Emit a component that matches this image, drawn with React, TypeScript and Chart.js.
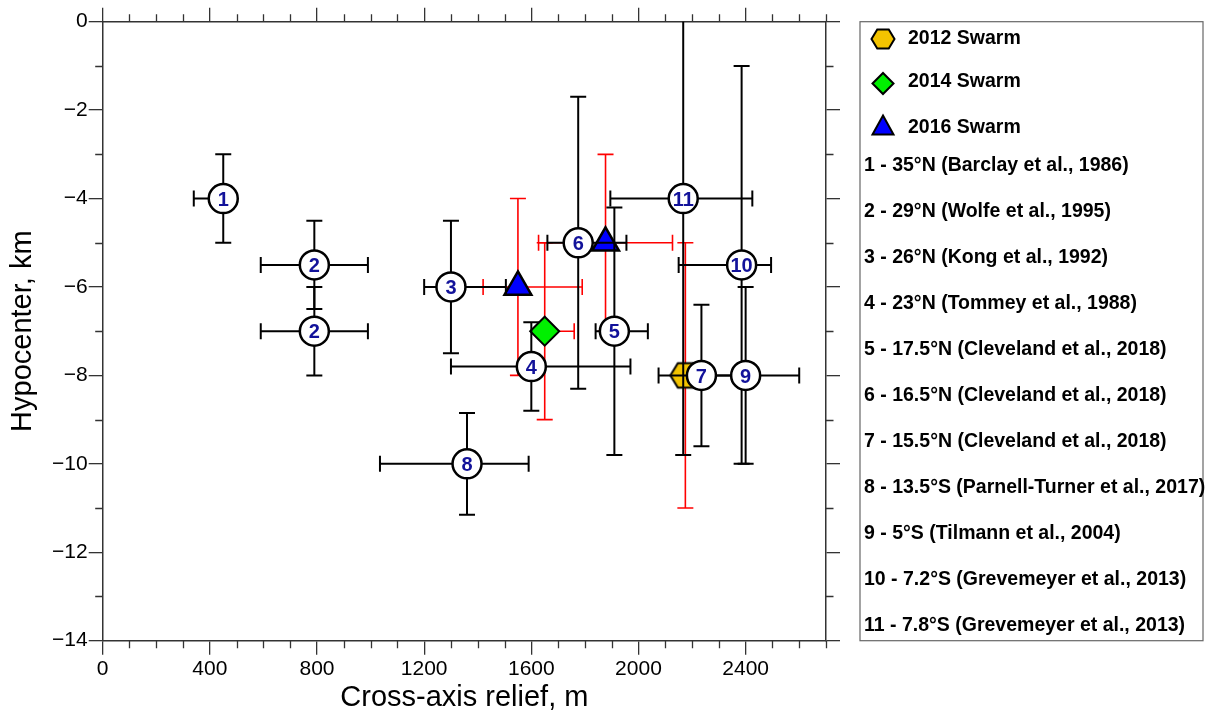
import React, { useEffect, useRef } from 'react';
import { Chart, registerables } from 'chart.js';

Chart.register(...registerables);

// ---------- data ----------
// Reference sites (numbered circles)
const siteNumbers = ['1', '2', '2', '3', '4', '5', '6', '7', '8', '9', '10', '11'];
const siteX = [450, 790, 790, 1300, 1600, 1910, 1775, 2235, 1360, 2400, 2385, 2167];
const siteY = [-4, -5.5, -7, -6, -7.8, -7, -5, -8, -10, -8, -5.5, -4];
const siteXLow = [340, 590, 590, 1200, 1300, 1840, 1660, 2075, 1035, 2200, 2150, 1895];
const siteXHigh = [450, 990, 990, 1505, 1970, 2035, 1955, 2390, 1590, 2600, 2495, 2425];
const siteYLow = [-5, -6.5, -8, -7.5, -8.8, -9.8, -8.3, -9.6, -11.15, -10, -10, -9.8];
const siteYHigh = [-3, -4.5, -6, -4.5, -6.8, -4.2, -1.7, -6.4, -8.85, -6, -1, 1.8];

// Swarms
const swarm2012X = [2175];
const swarm2012Y = [-8];
const swarm2012XLow = [2175];
const swarm2012XHigh = [2175];
const swarm2012YLow = [-11];
const swarm2012YHigh = [-5];

const swarm2014X = [1650];
const swarm2014Y = [-7];
const swarm2014XLow = [1625];
const swarm2014XHigh = [1760];
const swarm2014YLow = [-9];
const swarm2014YHigh = [-5];

const swarm2016X = [1550, 1877];
const swarm2016Y = [-6, -5];
const swarm2016XLow = [1420, 1627];
const swarm2016XHigh = [1790, 2127];
const swarm2016YLow = [-8, -7];
const swarm2016YHigh = [-4, -3];

// Axes
const xMajorTicks = [0, 400, 800, 1200, 1600, 2000, 2400];
const xMinorTicks = [100, 200, 300, 500, 600, 700, 900, 1000, 1100, 1300, 1400, 1500, 1700, 1800, 1900, 2100, 2200, 2300, 2500, 2600, 2700];
const yMajorTicks = [-14, -12, -10, -8, -6, -4, -2, 0];
const yMinorTicks = [-13, -11, -9, -7, -5, -3, -1];
const xTitle = 'Cross-axis relief, m';
const yTitle = 'Hypocenter, km';

// Legend
const swarmLegend = ['2012 Swarm', '2014 Swarm', '2016 Swarm'];
const siteLegend = [
  '1 - 35°N (Barclay et al., 1986)',
  '2 - 29°N (Wolfe et al., 1995)',
  '3 - 26°N (Kong et al., 1992)',
  '4 - 23°N (Tommey et al., 1988)',
  '5 - 17.5°N (Cleveland et al., 2018)',
  '6 - 16.5°N (Cleveland et al., 2018)',
  '7 - 15.5°N (Cleveland et al., 2018)',
  '8 - 13.5°S (Parnell-Turner et al., 2017)',
  '9 - 5°S (Tilmann et al., 2004)',
  '10 - 7.2°S (Grevemeyer et al., 2013)',
  '11 - 7.8°S (Grevemeyer et al., 2013)',
];

// ---------- styles ----------
const FONT = '"Liberation Sans", Arial, Helvetica, sans-serif';
const GOLD = '#F3C300';
const GREEN = '#00F000';
const BLUE = '#0000FF';
const NAVY = '#12129A';
const AXIS = '#333333';

const pack = (xs: number[], ys: number[]) => xs.map((x, i) => ({ x, y: ys[i] }));
const errs = (xl: number[], xh: number[], yl: number[], yh: number[]) =>
  xl.map((_, i) => ({ xLow: xl[i], xHigh: xh[i], yLow: yl[i], yHigh: yh[i] }));

function hexPath(ctx: CanvasRenderingContext2D, cx: number, cy: number, R: number) {
  ctx.beginPath();
  for (let k = 0; k < 6; k++) {
    const a = (Math.PI / 3) * k;
    const px = cx + R * Math.cos(a);
    const py = cy + R * Math.sin(a) * 0.95;
    if (k === 0) ctx.moveTo(px, py);
    else ctx.lineTo(px, py);
  }
  ctx.closePath();
}

function makeHexImage(R: number) {
  const c = document.createElement('canvas');
  const size = Math.ceil(2 * R + 4);
  c.width = size;
  c.height = size;
  const g = c.getContext('2d')!;
  hexPath(g, size / 2, size / 2, R);
  g.fillStyle = GOLD;
  g.fill();
  g.lineWidth = 2;
  g.strokeStyle = '#000';
  g.stroke();
  return c;
}

const errorBarPlugin = {
  id: 'errorBars',
  beforeDatasetDraw(chart: any, args: any) {
    const ds = chart.data.datasets[args.index];
    if (!ds.errors) return;
    const { ctx, chartArea, scales } = chart;
    const x = scales.x;
    const y = scales.y;
    const cap = 8;
    ctx.save();
    ctx.beginPath();
    ctx.rect(chartArea.left, chartArea.top, chartArea.right - chartArea.left, chartArea.bottom - chartArea.top);
    ctx.clip();
    ctx.strokeStyle = ds.errorColor;
    ctx.lineWidth = ds.errorWidth;
    ds.data.forEach((p: any, i: number) => {
      const e = ds.errors[i];
      const px = x.getPixelForValue(p.x);
      const py = y.getPixelForValue(p.y);
      ctx.beginPath();
      if (e.xLow < p.x) {
        const xl = x.getPixelForValue(e.xLow);
        ctx.moveTo(px, py);
        ctx.lineTo(xl, py);
        ctx.moveTo(xl, py - cap);
        ctx.lineTo(xl, py + cap);
      }
      if (e.xHigh > p.x) {
        const xh = x.getPixelForValue(e.xHigh);
        ctx.moveTo(px, py);
        ctx.lineTo(xh, py);
        ctx.moveTo(xh, py - cap);
        ctx.lineTo(xh, py + cap);
      }
      if (e.yLow < p.y) {
        const yl = y.getPixelForValue(e.yLow);
        ctx.moveTo(px, py);
        ctx.lineTo(px, yl);
        ctx.moveTo(px - cap, yl);
        ctx.lineTo(px + cap, yl);
      }
      if (e.yHigh > p.y) {
        const yh = y.getPixelForValue(e.yHigh);
        ctx.moveTo(px, py);
        ctx.lineTo(px, yh);
        ctx.moveTo(px - cap, yh);
        ctx.lineTo(px + cap, yh);
      }
      ctx.stroke();
    });
    ctx.restore();
  },
};

const siteNumberPlugin = {
  id: 'siteNumbers',
  afterDatasetDraw(chart: any, args: any) {
    const ds = chart.data.datasets[args.index];
    if (!ds.numbers) return;
    const ctx = chart.ctx;
    ctx.save();
    ctx.font = `bold 20px ${FONT}`;
    ctx.fillStyle = NAVY;
    ctx.textAlign = 'center';
    ctx.textBaseline = 'alphabetic';
    args.meta.data.forEach((el: any, i: number) => {
      ctx.fillText(ds.numbers[i], el.x, el.y + 7.2);
    });
    ctx.restore();
  },
};

const minorTickPlugin = {
  id: 'minorTicks',
  afterDraw(chart: any) {
    const { ctx, chartArea, scales } = chart;
    const len = 7.5;
    ctx.save();
    ctx.strokeStyle = AXIS;
    ctx.lineWidth = 1.3;
    ctx.beginPath();
    xMinorTicks.forEach((v) => {
      const px = Math.round(scales.x.getPixelForValue(v)) + 0.5;
      ctx.moveTo(px, chartArea.bottom);
      ctx.lineTo(px, chartArea.bottom + len);
      ctx.moveTo(px, chartArea.top);
      ctx.lineTo(px, chartArea.top - len);
    });
    yMinorTicks.forEach((v) => {
      const py = Math.round(scales.y.getPixelForValue(v)) + 0.5;
      ctx.moveTo(chartArea.left, py);
      ctx.lineTo(chartArea.left - len, py);
      ctx.moveTo(chartArea.right, py);
      ctx.lineTo(chartArea.right + len, py);
    });
    ctx.stroke();
    ctx.restore();
  },
};

const legendBoxPlugin = {
  id: 'legendBox',
  afterDraw(chart: any) {
    const ctx = chart.ctx;
    const left = 860;
    const right = 1203;
    const top = chart.chartArea.top;
    const bottom = chart.chartArea.bottom;
    ctx.save();
    ctx.strokeStyle = '#666';
    ctx.lineWidth = 1.2;
    ctx.strokeRect(left, top, right - left, bottom - top);

    ctx.font = `bold 19.5px ${FONT}`;
    ctx.fillStyle = '#000';
    ctx.textAlign = 'left';
    ctx.textBaseline = 'alphabetic';
    const swarmRows = [36.7, 80.3, 126];
    const markerX = 883;
    // hexagon
    hexPath(ctx, markerX, 39, 11.5);
    ctx.fillStyle = GOLD;
    ctx.fill();
    ctx.lineWidth = 2;
    ctx.strokeStyle = '#000';
    ctx.stroke();
    // diamond
    ctx.beginPath();
    ctx.moveTo(markerX - 10.5, 83.5);
    ctx.lineTo(markerX, 73);
    ctx.lineTo(markerX + 10.5, 83.5);
    ctx.lineTo(markerX, 94);
    ctx.closePath();
    ctx.fillStyle = GREEN;
    ctx.fill();
    ctx.stroke();
    // triangle
    ctx.beginPath();
    ctx.moveTo(markerX, 115.5);
    ctx.lineTo(markerX + 10.5, 134.5);
    ctx.lineTo(markerX - 10.5, 134.5);
    ctx.closePath();
    ctx.fillStyle = BLUE;
    ctx.fill();
    ctx.stroke();

    ctx.fillStyle = '#000';
    swarmLegend.forEach((t, i) => ctx.fillText(t, 908, swarmRows[i] + 7));
    const firstRow = 163.5;
    const step = 46;
    siteLegend.forEach((t, i) => ctx.fillText(t, 864, firstRow + step * i + 7));
    ctx.restore();
  },
};

const minusFmt = (v: number) => (v < 0 ? '\u2212' + Math.abs(v) : String(v));

export default function App() {
  const ref = useRef<HTMLCanvasElement>(null);
  useEffect(() => {
    Chart.defaults.font.family = FONT;
    Chart.defaults.color = '#000';
    const hexImg = makeHexImage(15);
    const gridOpts = { drawOnChartArea: false, drawTicks: true, tickLength: 14, color: AXIS, lineWidth: 1.3 };
    const borderOpts = { display: true, color: AXIS, width: 1.5 };
    const chart = new Chart(ref.current!, {
      type: 'scatter',
      data: {
        datasets: [
          {
            label: 'sites',
            data: pack(siteX, siteY),
            pointStyle: 'circle',
            pointRadius: 14.5,
            pointHoverRadius: 14.5,
            backgroundColor: '#ffffff',
            borderColor: '#000000',
            borderWidth: 2.5,
            order: 0,
            errors: errs(siteXLow, siteXHigh, siteYLow, siteYHigh),
            errorColor: '#000',
            errorWidth: 2,
            numbers: siteNumbers,
          } as any,
          {
            label: '2016 Swarm',
            data: pack(swarm2016X, swarm2016Y),
            pointStyle: 'triangle',
            pointRadius: 15.5,
            pointHoverRadius: 15.5,
            backgroundColor: BLUE,
            borderColor: '#000',
            borderWidth: 2.5,
            order: 1,
            errors: errs(swarm2016XLow, swarm2016XHigh, swarm2016YLow, swarm2016YHigh),
            errorColor: '#FF0000',
            errorWidth: 1.6,
          } as any,
          {
            label: '2014 Swarm',
            data: pack(swarm2014X, swarm2014Y),
            pointStyle: 'rectRot',
            pointRadius: 14.5,
            pointHoverRadius: 14.5,
            backgroundColor: GREEN,
            borderColor: '#000',
            borderWidth: 2,
            order: 2,
            errors: errs(swarm2014XLow, swarm2014XHigh, swarm2014YLow, swarm2014YHigh),
            errorColor: '#FF0000',
            errorWidth: 1.6,
          } as any,
          {
            label: '2012 Swarm',
            data: pack(swarm2012X, swarm2012Y),
            pointStyle: hexImg,
            pointRadius: 15,
            backgroundColor: GOLD,
            borderColor: '#000',
            order: 3,
            errors: errs(swarm2012XLow, swarm2012XHigh, swarm2012YLow, swarm2012YHigh),
            errorColor: '#FF0000',
            errorWidth: 1.6,
          } as any,
        ],
      },
      options: {
        responsive: false,
        animation: false,
        devicePixelRatio: 1,
        events: [],
        layout: { padding: 0 },
        plugins: { legend: { display: false }, tooltip: { enabled: false } },
        scales: {
          x: {
            type: 'linear',
            position: 'bottom',
            min: 0,
            max: 2700,
            afterBuildTicks: (s: any) => {
              s.ticks = xMajorTicks.map((value) => ({ value }));
            },
            afterFit: (s: any) => {
              s.height = 76.3;
            },
            ticks: { font: { size: 21 }, color: '#000', padding: 2, maxRotation: 0, autoSkip: false, callback: (v: any) => String(v) },
            grid: gridOpts,
            border: borderOpts,
            title: { display: true, text: xTitle, font: { size: 29, lineHeight: 1 }, color: '#000', padding: { top: 0, bottom: 5 } },
          },
          x2: {
            type: 'linear',
            position: 'top',
            min: 0,
            max: 2700,
            afterBuildTicks: (s: any) => {
              s.ticks = xMajorTicks.map((value) => ({ value }));
            },
            afterFit: (s: any) => {
              s.height = 21.7;
            },
            ticks: { display: false },
            grid: gridOpts,
            border: borderOpts,
          },
          y: {
            type: 'linear',
            position: 'left',
            min: -14,
            max: 0,
            afterBuildTicks: (s: any) => {
              s.ticks = yMajorTicks.map((value) => ({ value }));
            },
            afterFit: (s: any) => {
              s.width = 102.7;
            },
            ticks: { font: { size: 21 }, color: '#000', padding: 1, callback: (v: any) => minusFmt(Number(v)) },
            grid: gridOpts,
            border: borderOpts,
            title: { display: true, text: yTitle, font: { size: 29, lineHeight: 1 }, color: '#000', padding: { top: 8, bottom: 0 } },
          },
          y2: {
            type: 'linear',
            position: 'right',
            min: -14,
            max: 0,
            afterBuildTicks: (s: any) => {
              s.ticks = yMajorTicks.map((value) => ({ value }));
            },
            afterFit: (s: any) => {
              s.width = 385;
            },
            ticks: { display: false },
            grid: gridOpts,
            border: borderOpts,
          },
        },
      } as any,
      plugins: [errorBarPlugin, siteNumberPlugin, minorTickPlugin, legendBoxPlugin],
    } as any);
    return () => chart.destroy();
  }, []);
  return (
    <canvas
      ref={ref}
      width={1211}
      height={717}
      style={{ position: 'absolute', left: 0, top: 0, width: 1211, height: 717 }}
    />
  );
}
